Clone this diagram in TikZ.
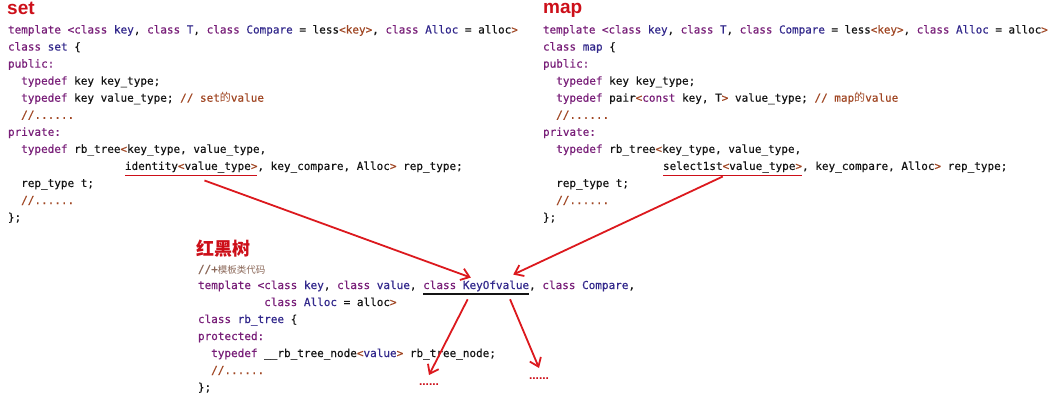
\documentclass[tikz,border=0pt]{standalone}
\usepackage{fontspec}
\usetikzlibrary{arrows.meta,calc}
\newfontfamily\codefont[FakeBold=0.35]{DejaVu Sans Mono}
\newfontfamily\cjkfont{Noto Sans CJK SC}
\newfontfamily\titlefont{Liberation Sans}
\definecolor{kwc}{RGB}{120,30,120}
\definecolor{tyc}{RGB}{50,40,140}
\definecolor{brc}{RGB}{160,70,35}
\definecolor{txc}{RGB}{20,20,20}
\definecolor{redc}{RGB}{205,15,25}
\definecolor{arrc}{RGB}{220,25,30}
\definecolor{cmc}{RGB}{140,105,90}
\newcommand\cKw[1]{\textcolor{kwc}{#1}}
\newcommand\cTy[1]{\textcolor{tyc}{#1}}
\newcommand\cBr[1]{\textcolor{brc}{#1}}
\newcommand\cCj[1]{{\cjkfont #1}}
\tikzset{
  code/.style={anchor=base west, inner sep=0pt, outer sep=0pt, text=txc,
    font=\codefont\fontsize{11}{13}\selectfont},
  ttl/.style={anchor=base west, inner sep=0pt, text=redc,
    font=\titlefont\bfseries\fontsize{19}{21}\selectfont},
  cjttl/.style={anchor=base west, inner sep=0pt, text=redc,
    font=\cjkfont\bfseries\fontsize{18}{20}\selectfont},
  dotsnode/.style={anchor=base, inner sep=0pt, text=redc,
    font=\titlefont\bfseries\fontsize{12}{13}\selectfont},
  ulred/.style={draw=redc, line width=1.5pt},
  ulblack/.style={draw=txc, line width=1.5pt},
  arr/.style={draw=arrc, line width=1.8pt, -{Straight Barb[length=8pt,width=12pt]}},
}
\begin{document}
\begin{tikzpicture}[x=1pt,y=-1pt]
\fill[white] (0,0) rectangle (1050,420);
\useasboundingbox (0,0) rectangle (1050,420);

% ---------------- set ----------------
\node[ttl] (setT) at (7,15) {set};
\node[code] (s0) at (8,33.5) {\cKw{template} \cKw{<class} \cTy{key}, \cKw{class} \cTy{T}, \cKw{class} \cTy{Compare} = less\cBr{<key>}, \cKw{class} \cTy{Alloc} = alloc\cBr{>}};
\node[code] (s1) at (8,50.55) {\cKw{class} \cTy{set} \{};
\node[code] (s2) at (8,67.6) {\cKw{public:}};
\node[code] (s3) at (21.2,84.65) {\cKw{typedef} key key\_type;};
\node[code] (s4) at (21.2,101.7) {\cKw{typedef} key value\_type; \cBr{// set\cCj{的}value}};
\node[code] (s5) at (21.2,118.75) {\cBr{//......}};
\node[code] (s6) at (8,135.8) {\cKw{private:}};
\node[code] (s7) at (21.2,152.85) {\cKw{typedef} rb\_tree\cBr{<}key\_type, value\_type,};
\node[code] (s8a) at (125,169.9) {identity\cBr{<}value\_type\cBr{>}};
\node[code] (s8b) at (s8a.base east) {, key\_compare, Alloc\cBr{>} rep\_type;};
\node[code] (s9) at (21.2,186.95) {rep\_type t;};
\node[code] (s10) at (21.2,204) {\cBr{//......}};
\node[code] (s11) at (8,221.05) {\};};

% ---------------- map ----------------
\node[ttl] (mapT) at (543,14) {map};
\node[code, xscale=0.99] (m0) at (543,33.5) {\cKw{template} \cKw{<class} \cTy{key}, \cKw{class} \cTy{T}, \cKw{class} \cTy{Compare} = less\cBr{<key>}, \cKw{class} \cTy{Alloc} = alloc\cBr{>}};
\node[code] (m1) at (543,50.55) {\cKw{class} \cTy{map} \{};
\node[code] (m2) at (543,67.6) {\cKw{public:}};
\node[code] (m3) at (556.2,84.65) {\cKw{typedef} key key\_type;};
\node[code] (m4) at (556.2,101.7) {\cKw{typedef} pair\cBr{<}\cKw{const} key, T\cBr{>} value\_type; \cBr{// map\cCj{的}value}};
\node[code] (m5) at (556.2,118.75) {\cBr{//......}};
\node[code] (m6) at (543,135.8) {\cKw{private:}};
\node[code] (m7) at (556.2,152.85) {\cKw{typedef} rb\_tree\cBr{<}key\_type, value\_type,};
\node[code] (m8a) at (663,169.9) {select1st\cBr{<}value\_type\cBr{>}};
\node[code] (m8b) at (m8a.base east) {, key\_compare, Alloc\cBr{>} rep\_type;};
\node[code] (m9) at (556.2,186.95) {rep\_type t;};
\node[code] (m10) at (556.2,204) {\cBr{//......}};
\node[code] (m11) at (543,221.05) {\};};

% ---------------- rb_tree ----------------
\node[cjttl] (rbT) at (196,255) {红黑树};
\node[code, text=cmc] (bc) at (198,273) {//+{\cjkfont\fontsize{9.5}{11}\selectfont 模板类代码}};
\node[code] (b0a) at (198,289) {\cKw{template} \cKw{<class} \cTy{key}, \cKw{class} \cTy{value},};
\node[code] (kov) at ([xshift=6.62pt]b0a.base east) {\cKw{class} \cTy{KeyOfvalue}};
\node[code] (b0c) at (kov.base east) {, \cKw{class} \cTy{Compare},};
\node[code] (b1) at (264.2,306) {\cKw{class} \cTy{Alloc} = alloc\cBr{>}};
\node[code] (b2) at (198,323) {\cKw{class} \cTy{rb\_tree} \{};
\node[code] (b3) at (198,340) {\cKw{protected:}};
\node[code] (b4) at (211.2,357) {\cKw{typedef} \_\_rb\_tree\_node\cBr{<}\cTy{value}\cBr{>} rb\_tree\_node;};
\node[code] (b5) at (211.2,374) {\cBr{//......}};
\node[code] (b6) at (198,391) {\};};

\node[dotsnode] (dotsA) at (429,385) {......};
\node[dotsnode] (dotsB) at (539,379) {......};

% ---------------- underlines ----------------
\draw[ulred] ([yshift=-3pt]s8a.south west) -- ([yshift=-3pt]s8a.south east);
\draw[ulred] ([yshift=-3pt]m8a.south west) -- ([yshift=-3pt]m8a.south east);
\draw[ulblack] ([yshift=-2.5pt]kov.south west) -- ([yshift=-2.5pt]kov.south east);

% ---------------- arrows ----------------
\draw[arr] ($(s8a.south west)!0.6!(s8a.south east)+(0,-8pt)$) -- ($(kov.north west)!0.45!(kov.north east)+(0,3pt)$);
\draw[arr] ($(m8a.south west)!0.43!(m8a.south east)+(0,-4pt)$) -- ($(kov.north west)!0.85!(kov.north east)+(0,6pt)$);
\draw[arr] ($(kov.south west)!0.42!(kov.south east)+(0,-8pt)$) -- ($(dotsA.base)+(0,10pt)$);
\draw[arr] ($(kov.south west)!0.82!(kov.south east)+(0,-8pt)$) -- ($(dotsB.base)+(0,11pt)$);
\end{tikzpicture}
\end{document}
